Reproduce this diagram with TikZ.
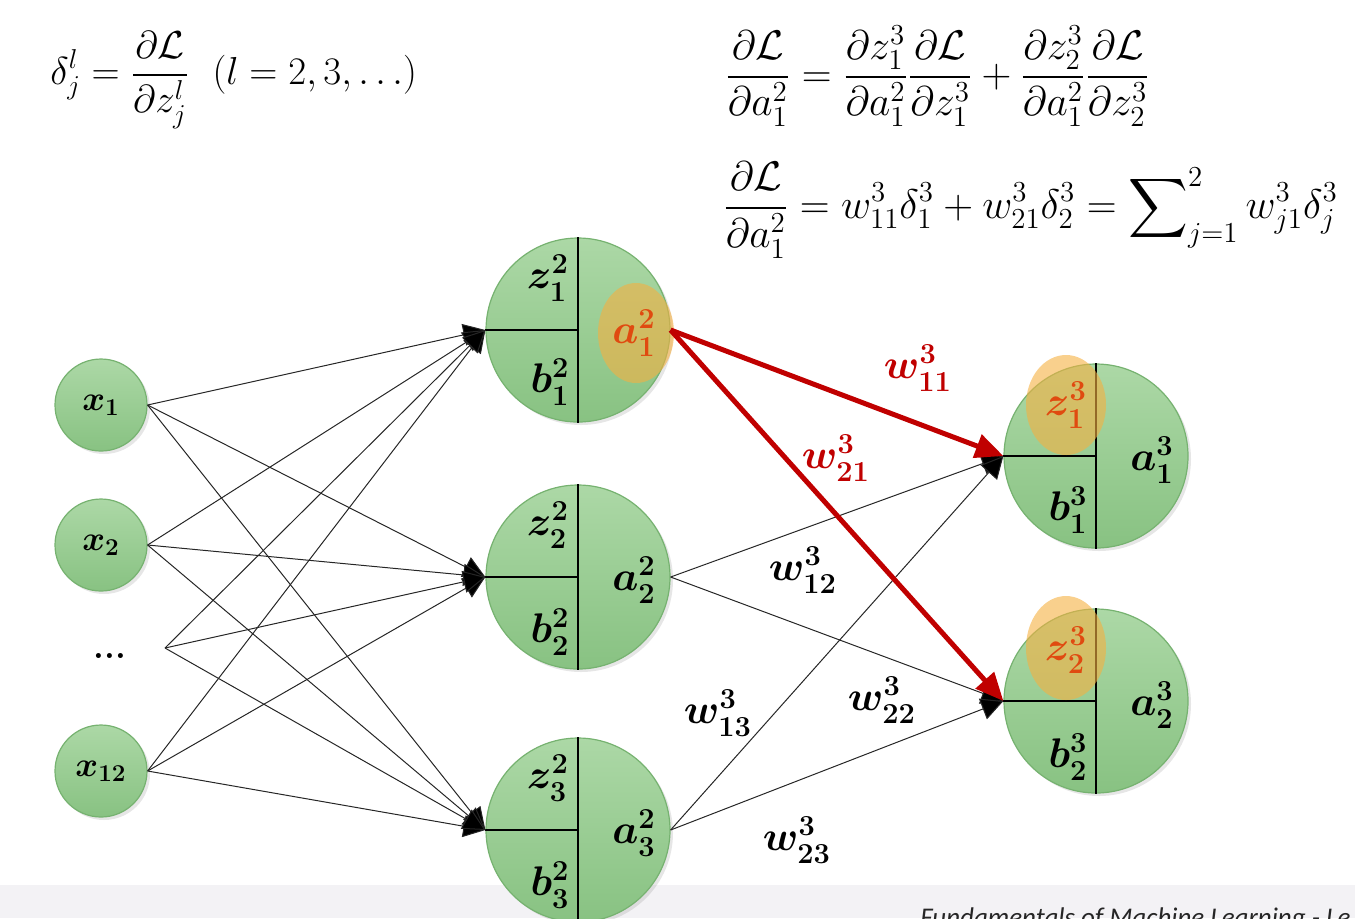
\RequirePackage{fix-cm}
\documentclass[tikz,border=0pt]{standalone}
\usepackage{amsmath,amssymb}
\usepackage{fontspec}
\newfontfamily\footfont{Carlito}
\usetikzlibrary{arrows.meta,shadows}
\definecolor{ntop}{RGB}{172,216,166}
\definecolor{nbot}{RGB}{136,194,130}
\definecolor{nedge}{RGB}{118,178,112}
\definecolor{hl}{RGB}{245,176,65}
\definecolor{lab}{RGB}{224,74,16}
\definecolor{wred}{RGB}{192,0,0}
\definecolor{strip}{RGB}{243,242,245}
\tikzset{
  neuron/.style={circle, minimum size=92pt, inner sep=0pt, top color=ntop, bottom color=nbot,
    draw=nedge, line width=0.6pt, drop shadow={opacity=0.2, shadow xshift=1.5pt, shadow yshift=-1.5pt}},
  inneuron/.style={neuron, minimum size=46pt, font=\fontsize{17.3}{19}\selectfont\boldmath},
  divider/.style={line width=1pt, draw=black},
  lbl/.style={font=\fontsize{20.7}{24}\selectfont\boldmath, inner sep=0pt},
  redlbl/.style={lbl, text=lab},
  wlbl/.style={lbl, text=wred},
  thinedge/.style={line width=0.5pt, draw=black!85, -{Triangle[length=11pt,width=11pt,fill=black]}},
  rededge/.style={line width=2.5pt, draw=wred, -{Triangle[length=14pt,width=12pt]}},
  hilite/.style={fill=hl, opacity=0.6},
  formula/.style={font=\fontsize{20.7}{24}\selectfont, inner sep=0pt, anchor=west}
}
\begin{document}
\begin{tikzpicture}[x=0.5pt,y=-0.5pt]
\useasboundingbox (0,0) rectangle (1355,918);
\clip (0,0) rectangle (1355,918);
% bottom strip
\fill[strip] (0,885) rectangle (1355,918);
\node[anchor=base west, inner sep=0pt, font=\footfont\itshape\fontsize{13.5}{15}\selectfont, text=black!85] (foot) at (920,926) {Fundamentals of Machine Learning - Le};

% formulas
\node[formula, font=\fontsize{19.5}{22}\selectfont] (f0) at (50,80) {$\displaystyle \delta_j^l = \frac{\partial\mathcal{L}}{\partial z_j^l}\ \ (l = 2, 3, \ldots)$};
\node[formula] (f1) at (725,76) {$\displaystyle \frac{\partial\mathcal{L}}{\partial a_1^2} = \frac{\partial z_1^3}{\partial a_1^2}\frac{\partial\mathcal{L}}{\partial z_1^3} + \frac{\partial z_2^3}{\partial a_1^2}\frac{\partial\mathcal{L}}{\partial z_2^3}$};
\node[formula] (f2) at (723,210) {$\displaystyle \frac{\partial\mathcal{L}}{\partial a_1^2} = w_{11}^3\delta_1^3 + w_{21}^3\delta_2^3 = \sum\nolimits_{j=1}^{2} w_{j1}^3\delta_j^3$};

% input neurons
\node[inneuron] (x1) at (101,405) {$x_1$};
\node[inneuron] (x2) at (101,545) {$x_2$};
\node[font=\fontsize{17.3}{19}\selectfont\bfseries] (dots) at (110,656) {...};
\coordinate (fan) at (165,648);
\node[inneuron] (x12) at (101,771) {$x_{12}$};

% hidden neurons
\node[neuron] (h1) at (578,330) {};
\node[neuron] (h2) at (578,577) {};
\node[neuron] (h3) at (578,830) {};
% output neurons
\node[neuron] (o1) at (1096,456) {};
\node[neuron] (o2) at (1096,701) {};

\foreach \n in {h1,h2,h3,o1,o2}{
  \draw[divider] (\n.west) -- (\n.center);
  \draw[divider] (\n.north) -- (\n.south);
}

% highlights
\fill[hilite] (636,333) ellipse [x radius=19pt, y radius=25pt];
\fill[hilite] (1066,405) ellipse [x radius=20pt, y radius=25pt];
\fill[hilite] (1066,648) ellipse [x radius=20pt, y radius=26pt];

% labels in hidden neurons
\node[lbl] (z12) at (548,278) {$z_1^2$};
\node[lbl] (b12) at (550,382) {$b_1^2$};
\node[redlbl] (a12) at (634,333) {$a_1^2$};
\node[lbl] (z22) at (548,525) {$z_2^2$};
\node[lbl] (b22) at (550,632) {$b_2^2$};
\node[lbl] (a22) at (634,580) {$a_2^2$};
\node[lbl] (z32) at (548,778) {$z_3^2$};
\node[lbl] (b32) at (550,885) {$b_3^2$};
\node[lbl] (a32) at (634,833) {$a_3^2$};
% labels in output neurons
\node[redlbl] (z13) at (1066,405) {$z_1^3$};
\node[lbl] (b13) at (1068,510) {$b_1^3$};
\node[lbl] (a13) at (1152,460) {$a_1^3$};
\node[redlbl] (z23) at (1066,650) {$z_2^3$};
\node[lbl] (b23) at (1068,757) {$b_2^3$};
\node[lbl] (a23) at (1152,705) {$a_2^3$};

% input -> hidden edges
\foreach \s in {x1,x2,x12}{
  \foreach \t in {h1,h2,h3}{
    \draw[thinedge] (\s.east) -- (\t.west);
  }
}
\foreach \t in {h1,h2,h3}{
  \draw[thinedge] (fan) -- (\t.west);
}
% hidden -> output edges
\foreach \s in {h2,h3}{
  \foreach \t in {o1,o2}{
    \draw[thinedge] (\s.east) -- (\t.west);
  }
}
\draw[rededge] (h1.east) -- (o1.west);
\draw[rededge] (h1.east) -- (o2.west);

% weight labels
\node[wlbl] (w11) at (918,368) {$w_{11}^3$};
\node[wlbl] (w21) at (836,458) {$w_{21}^3$};
\node[lbl] (w12) at (803,570) {$w_{12}^3$};
\node[lbl] (w22) at (882,700) {$w_{22}^3$};
\node[lbl] (w13) at (718,713) {$w_{13}^3$};
\node[lbl] (w23) at (797,840) {$w_{23}^3$};
\end{tikzpicture}
\end{document}
